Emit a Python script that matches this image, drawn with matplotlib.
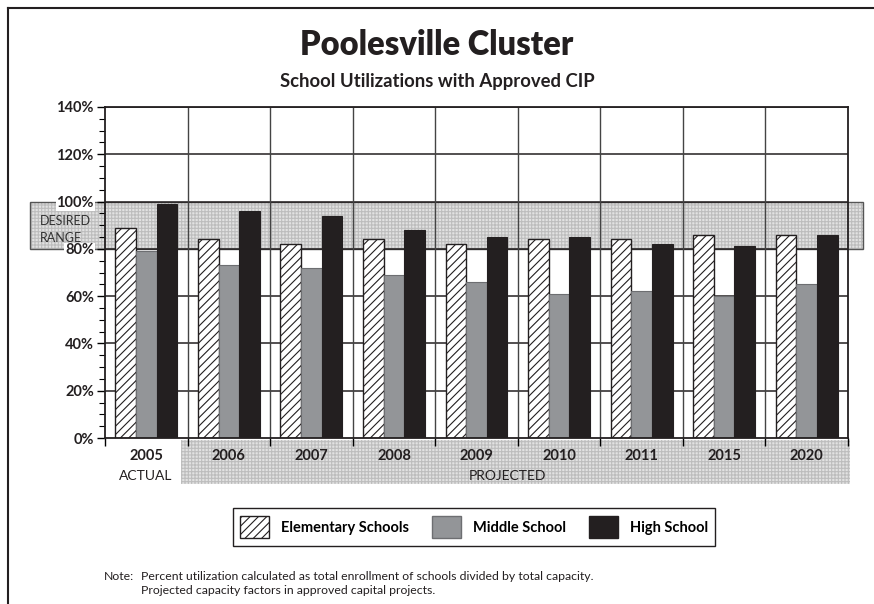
import numpy as np
import matplotlib
matplotlib.use('Agg')
import matplotlib.pyplot as plt
from matplotlib.patches import Rectangle, Patch
import matplotlib.transforms as mtransforms

plt.rcParams['font.family'] = ['Lato', 'DejaVu Sans']
plt.rcParams['hatch.linewidth'] = 0.8

years = ['2005', '2006', '2007', '2008', '2009', '2010', '2011', '2015', '2020']
elementary = [89, 84, 82, 84, 82, 84, 84, 86, 86]
middle = [79, 73, 72, 69, 66, 61, 62, 60, 65]
high = [99, 96, 94, 88, 85, 85, 82, 81, 86]
y_ticks = [0, 20, 40, 60, 80, 100, 120, 140]
desired_range = (80, 100)

W, H = 874, 604
fig = plt.figure(figsize=(W / 100, H / 100), dpi=100)

def fx(px):
    return px / W

def fy(py):
    return 1 - py / H

ax = fig.add_axes([fx(105), fy(438), fx(848) - fx(105), fy(107) - fy(438)])

x = np.arange(len(years))
bw = 0.25
ax.bar(x - bw, elementary, bw, facecolor='white', edgecolor='#231f20',
       hatch='////', linewidth=1.0, zorder=3)
ax.bar(x, middle, bw, facecolor='#939598', edgecolor='#6d6e71',
       linewidth=0.8, zorder=3)
ax.bar(x + bw, high, bw, facecolor='#231f20', edgecolor='#231f20',
       linewidth=0.8, zorder=3)

ax.set_xlim(-0.5, len(years) - 0.5)
ax.set_ylim(0, 140)

# desired range band (extends left of the axes)
tr = mtransforms.blended_transform_factory(ax.transAxes, ax.transData)
x0 = (30 - 105) / (848 - 105)
x1 = (863 - 105) / (848 - 105)
band = Rectangle((x0, desired_range[0]), x1 - x0, desired_range[1] - desired_range[0],
                 transform=tr, facecolor='#e2e2e2', edgecolor='#bdbdbd',
                 hatch='+++++', linewidth=0, clip_on=False, zorder=1)
ax.add_patch(band)
ax.add_patch(Rectangle((x0, desired_range[0]), x1 - x0, desired_range[1] - desired_range[0],
                       transform=tr, facecolor='none', edgecolor='#555555',
                       linewidth=1.0, clip_on=False, zorder=1.5))
ax.text(40 / W, fy(221), 'DESIRED', transform=fig.transFigure, fontsize=9,
        color='#333333', va='center', ha='left', zorder=2)
ax.text(40 / W, fy(238), 'RANGE', transform=fig.transFigure, fontsize=9,
        color='#333333', va='center', ha='left', zorder=2)

# grid
for yv in y_ticks[1:]:
    ax.axhline(yv, color='#231f20', linewidth=1.1, zorder=2)
for b in np.arange(0.5, len(years) - 0.5, 1):
    ax.axvline(b, color='#444444', linewidth=1.0, zorder=2)

for s in ax.spines.values():
    s.set_color('#231f20')
    s.set_linewidth(1.3)
    s.set_zorder(4)

ax.set_yticks(y_ticks)
ax.set_yticklabels([f'{v}%' for v in y_ticks], fontsize=10.5, fontweight='bold',
                   color='#231f20')
ax.set_yticks(np.arange(0, 141, 5), minor=True)
ax.tick_params(axis='y', which='major', length=6, width=1, direction='out', pad=2)
ax.tick_params(axis='y', which='minor', length=4, width=0.8, direction='out')
for lbl in ax.get_yticklabels():
    lbl.set_bbox(dict(facecolor='white', edgecolor='none', pad=0.5))

ax.set_xticks(x)
ax.set_xticklabels(years, fontsize=10.5, fontweight='bold', color='#231f20')
ax.set_xticks(np.arange(-0.5, len(years), 1), minor=True)
ax.tick_params(axis='x', which='major', length=0, pad=8)
ax.tick_params(axis='x', which='minor', length=6, width=1, direction='out')

# projected band below the axis
ax.add_patch(Rectangle((fx(181), fy(484)), fx(850) - fx(181), fy(440) - fy(484),
                       transform=fig.transFigure, facecolor='#e2e2e2',
                       edgecolor='#bdbdbd', hatch='+++++', linewidth=0,
                       clip_on=False, zorder=0.5))
fig.text(fx(146), fy(476), 'ACTUAL', fontsize=10, ha='center', va='center',
         color='#231f20')
fig.text(fx(507), fy(476), 'PROJECTED', fontsize=10, ha='center', va='center',
         color='#231f20')

# titles
fig.text(0.5, fy(45), 'Poolesville Cluster', fontsize=23.5, fontweight='heavy',
         ha='center', va='center', color='#231f20')
fig.text(0.5, fy(82), 'School Utilizations with Approved CIP', fontsize=13.3,
         fontweight='bold', ha='center', va='center', color='#231f20')

# legend
handles = [Patch(facecolor='white', edgecolor='#231f20', hatch='////', label='Elementary Schools'),
           Patch(facecolor='#939598', edgecolor='#6d6e71', label='Middle School'),
           Patch(facecolor='#231f20', edgecolor='#231f20', label='High School')]
leg = fig.legend(handles=handles, loc='center', bbox_to_anchor=(fx(474), fy(527)),
                 ncol=3, fancybox=False, framealpha=1, edgecolor='#231f20',
                 prop={'size': 10.5, 'weight': 'bold'}, handlelength=2.0,
                 handleheight=2.0, columnspacing=1.6, borderpad=0.5)
leg.get_frame().set_linewidth(1.0)

# note
fig.text(fx(104), fy(576), 'Note:', fontsize=8.8, va='center', color='#231f20')
fig.text(fx(141), fy(576), 'Percent utilization calculated as total enrollment of schools divided by total capacity.',
         fontsize=8.8, va='center', color='#231f20')
fig.text(fx(141), fy(590), 'Projected capacity factors in approved capital projects.',
         fontsize=8.8, va='center', color='#231f20')

# outer frame (top and left)
fig.add_artist(plt.Line2D([fx(8), fx(8)], [fy(8), 0], transform=fig.transFigure,
                          color='#231f20', linewidth=1.5))
fig.add_artist(plt.Line2D([fx(8), 1], [fy(8), fy(8)], transform=fig.transFigure,
                          color='#231f20', linewidth=1.5))

fig.savefig('out.png', dpi=100)
